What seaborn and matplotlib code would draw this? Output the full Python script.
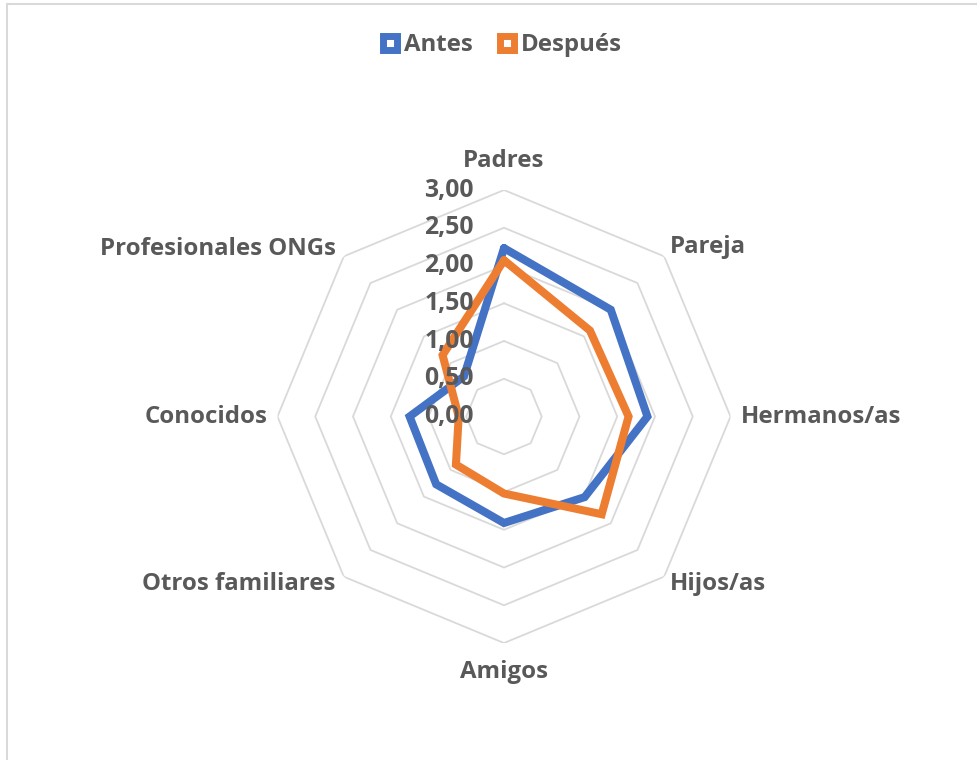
import numpy as np
import pandas as pd
import seaborn as sns
import matplotlib.pyplot as plt
from matplotlib.lines import Line2D
from matplotlib.patches import Rectangle

# datos
categorias = ['Padres', 'Pareja', 'Hermanos/as', 'Hijos/as', 'Amigos',
              'Otros familiares', 'Conocidos', 'Profesionales ONGs']
antes = [2.23, 2.00, 1.90, 1.51, 1.41, 1.27, 1.25, 0.75]
despues = [2.07, 1.61, 1.65, 1.83, 1.02, 0.90, 0.60, 1.15]
ticks = [0.0, 0.5, 1.0, 1.5, 2.0, 2.5, 3.0]
series = ['Antes', 'Después']

sns.set_theme(style='white')
plt.rcParams['font.family'] = ['Open Sans', 'DejaVu Sans']

gris = '#595959'
colores = {'Antes': '#4472C4', 'Después': '#ED7D31'}
fs = 17.3

n = len(categorias)
theta = np.arange(n) * 2 * np.pi / n
theta_c = np.append(theta, 2 * np.pi)

df = pd.DataFrame({
    'theta': np.concatenate([theta_c, theta_c]),
    'valor': np.concatenate([antes + antes[:1], despues + despues[:1]]),
    'serie': ['Antes'] * (n + 1) + ['Después'] * (n + 1),
})

fig = plt.figure(figsize=(9.77, 7.6), dpi=100)
ax = fig.add_axes([0.2840, 0.1539, 0.4637, 0.5961], projection='polar')
ax.set_theta_zero_location('N')
ax.set_theta_direction(-1)
ax.set_ylim(0, 3)
ax.grid(False)
ax.spines['polar'].set_visible(False)
ax.set_xticks([])
ax.set_yticks([])
ax.set_facecolor('white')

# anillos octogonales
for r in ticks[1:]:
    ax.plot(theta_c, [r] * (n + 1), color='#d9d9d9', lw=1.3, zorder=1)

sns.lineplot(data=df, x='theta', y='valor', hue='serie', palette=colores,
             sort=False, estimator=None, lw=5.8, legend=False, ax=ax, zorder=3)
for ln in ax.lines[-2:]:
    ln.set_solid_joinstyle('miter')
ax.set_xlabel('')
ax.set_ylabel('')

# etiquetas de categorias (desplazamiento en px)
offs = [(0, 29, 'center'), (6, 9, 'left'), (10, 0, 'left'), (6, -7, 'left'),
        (0, -29, 'center'), (-8, -7, 'right'), (-10, 0, 'right'), (-8, 7, 'right')]
for t, cat, (dx, dy, ha) in zip(theta, categorias, offs):
    ax.annotate(cat, xy=(t, 3.0), xytext=(dx * 0.72, dy * 0.72),
                textcoords='offset points', ha=ha, va='center',
                fontsize=fs, fontweight='bold', color=gris, annotation_clip=False)

# etiquetas del eje radial
for r in ticks:
    ax.annotate(f'{r:.2f}'.replace('.', ','), xy=(0, r), xytext=(-30 * 0.72, 0),
                textcoords='offset points', ha='right', va='center',
                fontsize=fs + 0.5, fontweight='bold', color=gris, zorder=5,
                annotation_clip=False)

handles = [Line2D([], [], ls='none', marker='s', ms=10, mfc='white',
                  mec=colores[s], mew=5) for s in series]
leg = fig.legend(handles, series, loc='center', bbox_to_anchor=(500 / 977, 1 - 45 / 760),
                 ncol=2, frameon=False, handletextpad=0.1, columnspacing=0.9,
                 handlelength=1.0, prop={'size': fs, 'weight': 'bold'})
for txt in leg.get_texts():
    txt.set_color(gris)

fig.add_artist(Rectangle((7 / 977, -0.1), 1.1, 1.1 - 4 / 760, transform=fig.transFigure,
                         fill=False, edgecolor='#d9d9d9', lw=1.5))

fig.savefig('out.png', dpi=100, facecolor='white')
